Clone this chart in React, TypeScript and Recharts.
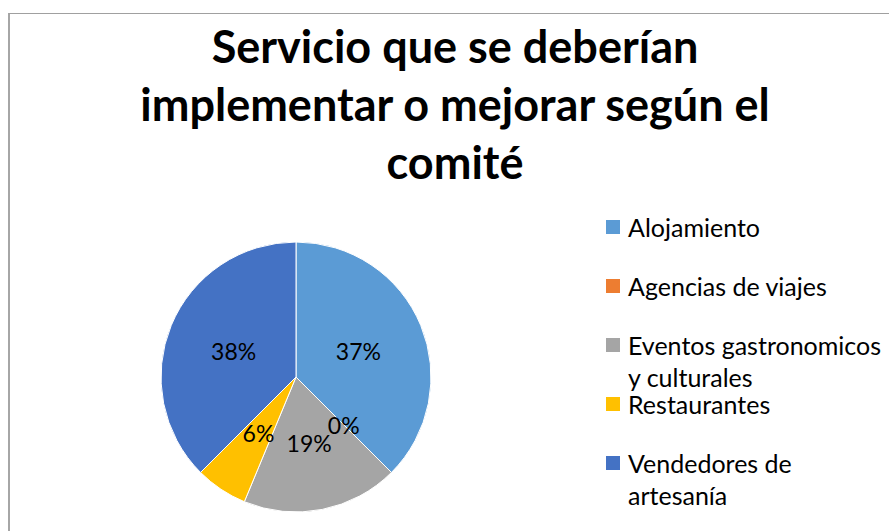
import React from 'react';
import { PieChart, Pie, Cell, Legend } from 'recharts';

const categories = [
  'Alojamiento',
  'Agencias de viajes',
  'Eventos gastronomicos y culturales',
  'Restaurantes',
  'Vendedores de artesanía',
];
const values = [6, 0, 3, 1, 6];
const valueLabels = ['37%', '0%', '19%', '6%', '38%'];
const colors = ['#5B9BD5', '#ED7D31', '#A5A5A5', '#FFC000', '#4472C4'];
const titleLines = ['Servicio que se deberían', 'implementar o mejorar según el', 'comité'];

const data = categories.map((name, i) => ({ name, value: values[i], label: valueLabels[i] }));

const RAD = Math.PI / 180;

const renderLabel = (props: any) => {
  const { cx, cy, midAngle, outerRadius, index } = props;
  const r = outerRadius * 0.5;
  const x = cx + r * Math.cos(-midAngle * RAD);
  const y = cy + r * Math.sin(-midAngle * RAD);
  return (
    <text
      key={`lbl-${index}`}
      x={x}
      y={y}
      textAnchor="middle"
      dominantBaseline="central"
      fill="#000"
      fontFamily="Lato, 'Noto Sans', sans-serif"
      fontSize={23}
    >
      {valueLabels[index]}
    </text>
  );
};

const renderLegend = () => (
  <div style={{ position: 'relative', width: 889, height: 531 }}>
    {categories.map((c, i) => (
      <div
        key={c}
        style={{
          position: 'absolute',
          left: 606,
          top: 211 + i * 59,
          display: 'flex',
          alignItems: 'flex-start',
        }}
      >
        <div style={{ width: 14, height: 14, background: colors[i], marginTop: 9, marginRight: 8 }} />
        <div
          style={{
            width: 255,
            fontFamily: "Lato, 'Noto Sans', sans-serif",
            fontSize: 25,
            lineHeight: '32px',
            color: '#000',
            textAlign: 'left',
          }}
        >
          {c}
        </div>
      </div>
    ))}
  </div>
);

export default function App() {
  return (
    <div
      style={{
        position: 'absolute',
        left: 0,
        top: 0,
        width: 889,
        height: 531,
        overflow: 'hidden',
        background: '#fff',
      }}
    >
      <div
        style={{
          position: 'absolute',
          left: 8,
          top: 13,
          width: 1000,
          height: 1000,
          borderTop: '1px solid #A0A0A0',
          borderLeft: '2px solid #A6A6A6',
          boxSizing: 'border-box',
        }}
      />
      <div
        style={{
          position: 'absolute',
          left: 0,
          top: 17,
          width: 910,
          textAlign: 'center',
          fontFamily: "Lato, 'Noto Sans', sans-serif",
          fontWeight: 700,
          fontSize: 45,
          lineHeight: '58px',
          color: '#000',
        }}
      >
        {titleLines.map((l) => (
          <div key={l}>{l}</div>
        ))}
      </div>
      <div style={{ position: 'absolute', left: 0, top: 0 }}>
        <PieChart width={889} height={531} margin={{ top: 0, right: 0, bottom: 0, left: 0 }}>
          <Pie
            data={data}
            dataKey="value"
            nameKey="name"
            cx={296}
            cy={377}
            outerRadius={135}
            startAngle={90}
            endAngle={-270}
            stroke="#fff"
            strokeWidth={1}
            label={renderLabel}
            labelLine={false}
            isAnimationActive={false}
          >
            {data.map((d, i) => (
              <Cell key={d.name} fill={colors[i]} />
            ))}
          </Pie>
          <Legend
            content={renderLegend}
            wrapperStyle={{ position: 'absolute', left: 0, top: 0, width: 889, height: 531 }}
          />
        </PieChart>
      </div>
    </div>
  );
}
